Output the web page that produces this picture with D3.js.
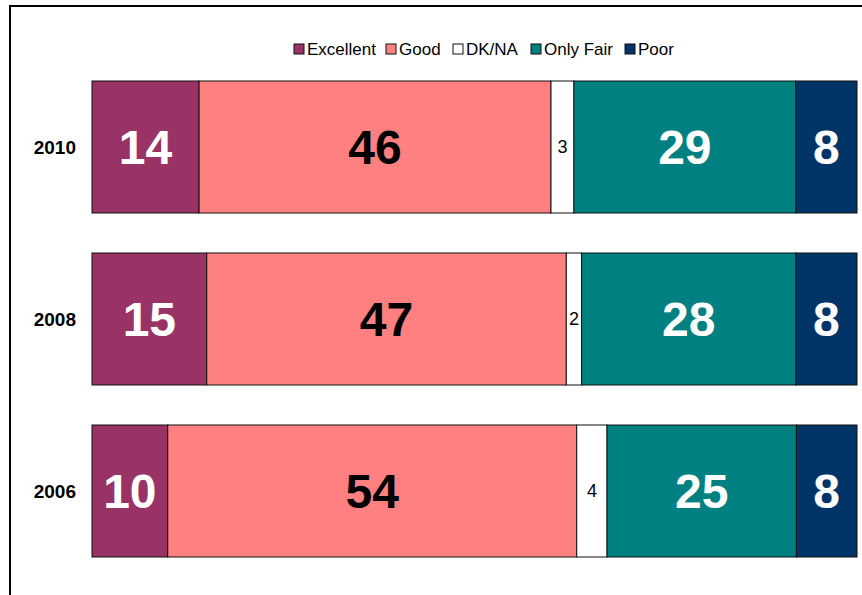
<!DOCTYPE html>
<html>
<head>
<meta charset="utf-8">
<script src="https://cdn.jsdelivr.net/npm/d3@7"></script>
<style>
  body { margin: 0; background: #fff; }
  svg { display: block; font-family: Arial, "Liberation Sans", sans-serif; }
</style>
</head>
<body>
<svg id="chart" width="862" height="595"></svg>
<script>
// Data
const years = ["2010", "2008", "2006"];
const categories = ["Excellent", "Good", "DK/NA", "Only Fair", "Poor"];
const excellent = [14, 15, 10];
const good = [46, 47, 54];
const dknA = [3, 2, 4];
const onlyFair = [29, 28, 25];
const poor = [8, 8, 8];

const colors = ["#993366", "#FF8080", "#FFFFFF", "#008080", "#003366"];
const labelColors = ["#fff", "#000", "#000", "#fff", "#fff"];
const bigLabel = [true, true, false, true, true];

const seriesValues = [excellent, good, dknA, onlyFair, poor];

const svg = d3.select("#chart");
const width = +svg.attr("width");
const height = +svg.attr("height");

// frame (open to the right and bottom, like the cropped original)
svg.append("line").attr("x1", 9).attr("x2", width).attr("y1", 6).attr("y2", 6)
  .attr("stroke", "#000").attr("stroke-width", 2);
svg.append("line").attr("x1", 10).attr("x2", 10).attr("y1", 5).attr("y2", height)
  .attr("stroke", "#000").attr("stroke-width", 2);

// 100% stacked rows
const rows = years.map((y, i) => {
  const row = { year: y };
  categories.forEach((c, j) => row[c] = seriesValues[j][i]);
  return row;
});
const normalized = rows.map(r => {
  const total = d3.sum(categories, c => r[c]);
  const o = { year: r.year };
  categories.forEach(c => o[c] = r[c] / total);
  return o;
});
const stacked = d3.stack().keys(categories)(normalized);

const x = d3.scaleLinear().domain([0, 1]).range([92, 857]);
const y = d3.scaleBand().domain(years).range([61, 577]).paddingInner(0.2326).paddingOuter(0.1163);

const layers = svg.append("g").selectAll("g")
  .data(stacked)
  .join("g")
  .attr("fill", (d, i) => colors[i]);

layers.selectAll("rect")
  .data(d => d)
  .join("rect")
  .attr("x", d => x(d[0]))
  .attr("y", d => y(d.data.year))
  .attr("width", d => x(d[1]) - x(d[0]))
  .attr("height", y.bandwidth())
  .attr("stroke", "#111")
  .attr("stroke-width", 1);

// value labels
stacked.forEach((layer, i) => {
  svg.append("g").selectAll("text")
    .data(layer)
    .join("text")
    .attr("x", d => (x(d[0]) + x(d[1])) / 2)
    .attr("y", d => y(d.data.year) + y.bandwidth() / 2)
    .attr("dy", "0.36em")
    .attr("text-anchor", "middle")
    .attr("fill", labelColors[i])
    .style("font-size", bigLabel[i] ? "48px" : "18px")
    .style("font-weight", bigLabel[i] ? "bold" : "normal")
    .text((d, k) => seriesValues[i][k]);
});

// year labels
svg.append("g").selectAll("text")
  .data(years)
  .join("text")
  .attr("x", 76)
  .attr("y", d => y(d) + y.bandwidth() / 2)
  .attr("dy", "0.36em")
  .attr("text-anchor", "end")
  .style("font-size", "19px")
  .style("font-weight", "bold")
  .text(d => d);

// legend
const legendX = [294, 386, 453, 531, 625];
const legend = svg.append("g").selectAll("g")
  .data(categories)
  .join("g")
  .attr("transform", (d, i) => `translate(${legendX[i]},44)`);
legend.append("rect")
  .attr("width", 10).attr("height", 10)
  .attr("fill", (d, i) => colors[i])
  .attr("stroke", "#111").attr("stroke-width", 1);
legend.append("text")
  .attr("x", 13).attr("y", 5).attr("dy", "0.36em")
  .style("font-size", "17px")
  .text(d => d);
</script>
</body>
</html>
